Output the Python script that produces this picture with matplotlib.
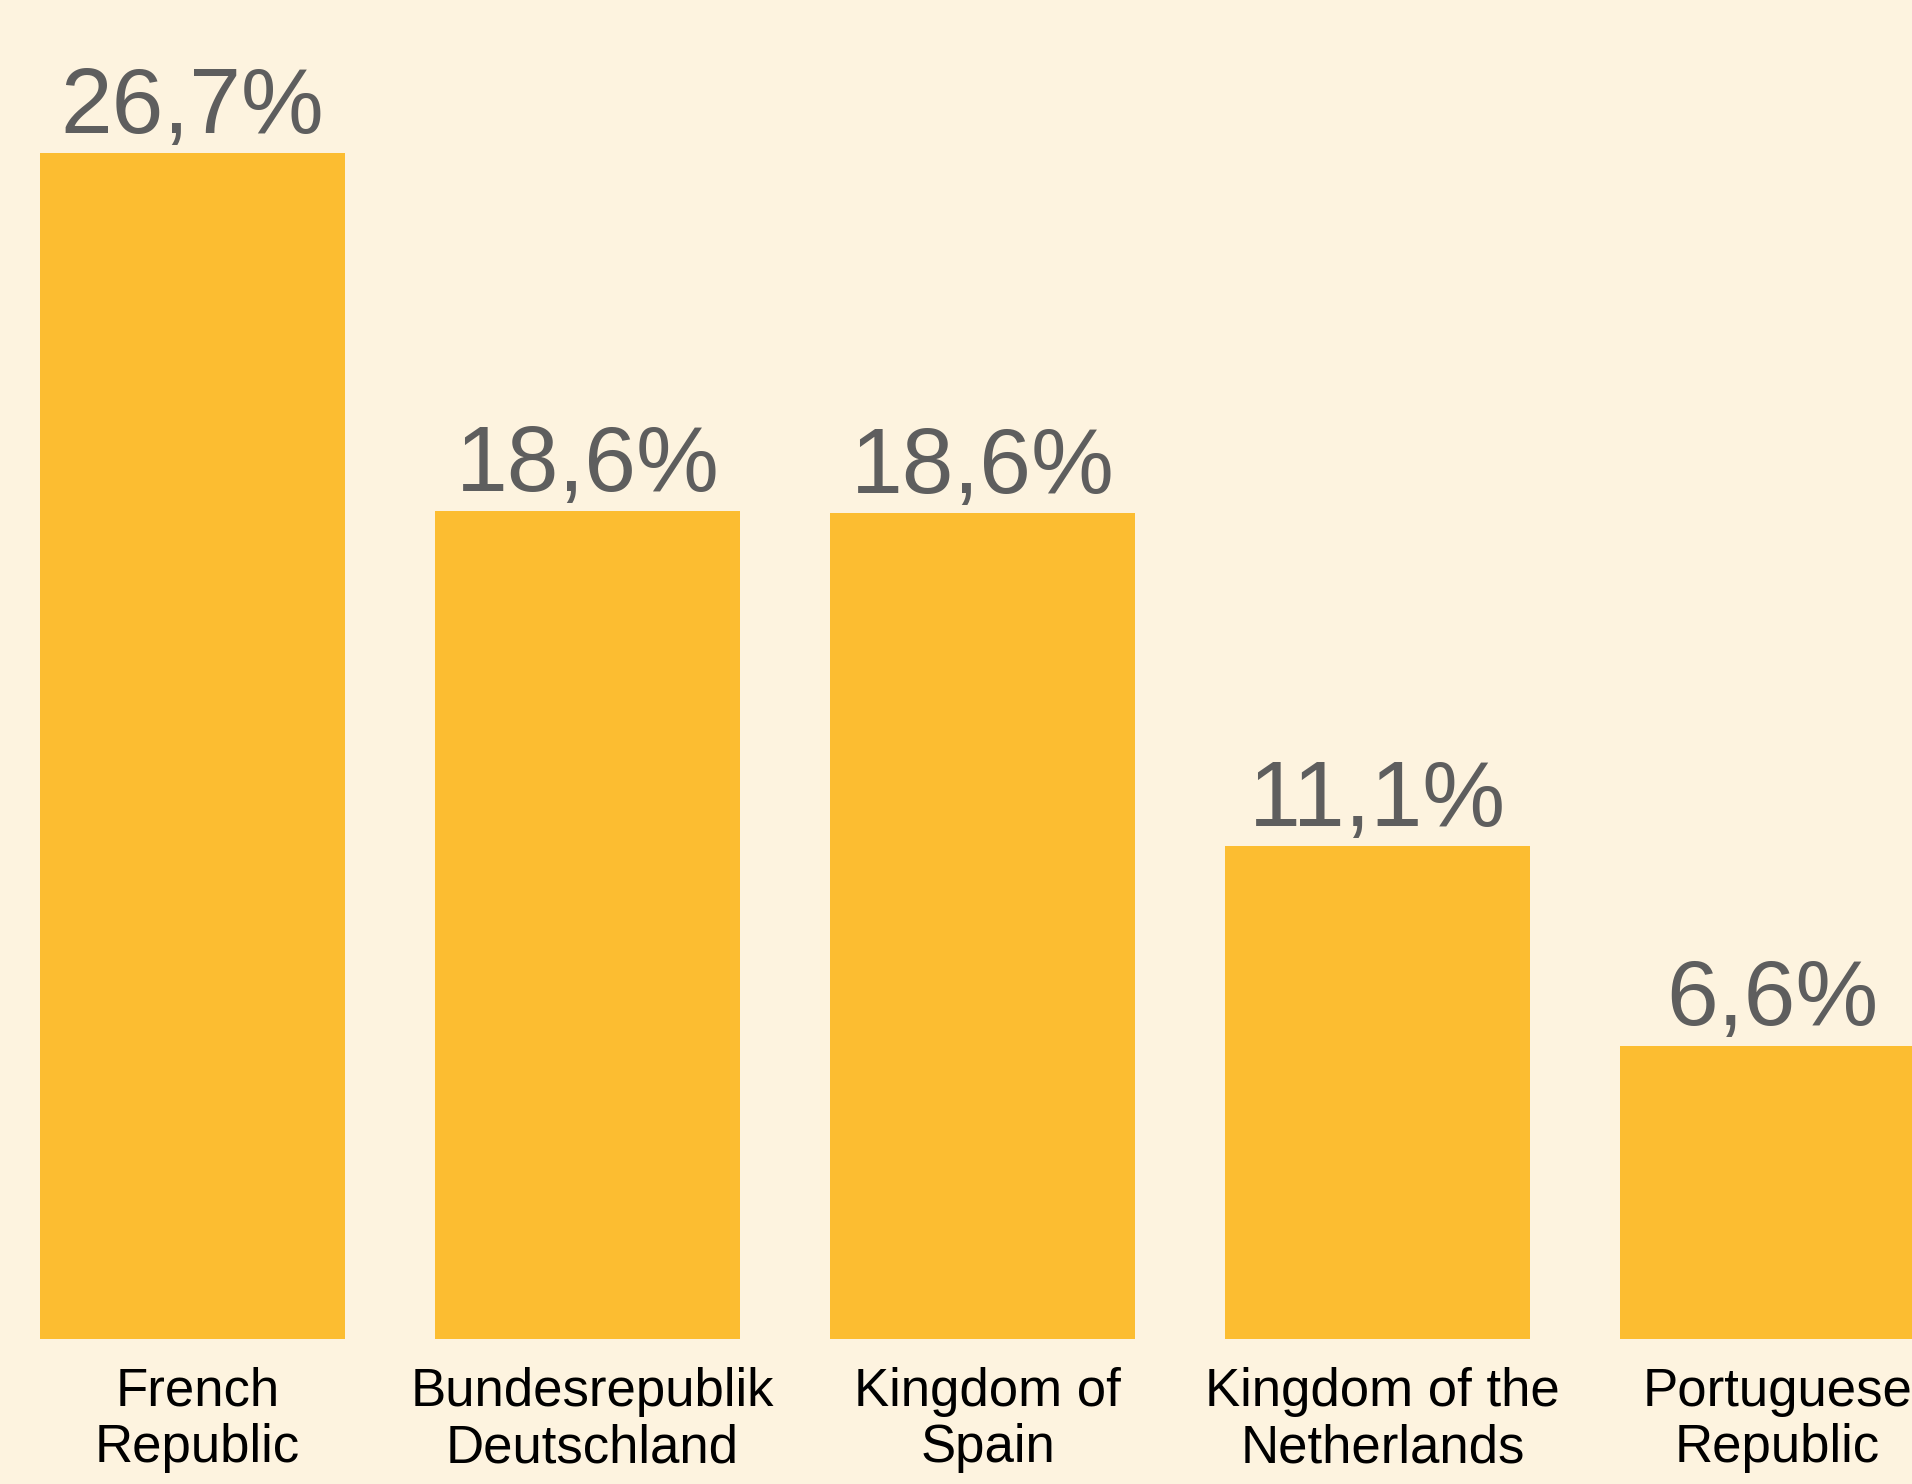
import matplotlib.pyplot as plt
import matplotlib.transforms as mtransforms

# Dados
paises = ['French\nRepublic', 'Bundesrepublik\nDeutschland', 'Kingdom of\nSpain',
          'Kingdom of the\nNetherlands', 'Portuguese\nRepublic']
valores = [26.7, 18.64, 18.6, 11.1, 6.6]

fundo = '#FDF3DF'
cor_barra = '#FCBD31'

plt.rcParams['font.family'] = ['Liberation Sans', 'DejaVu Sans']

fig = plt.figure(figsize=(19.12, 14.84), dpi=100, facecolor=fundo)
ax = fig.add_axes([0, 145 / 1484, 1, 1339 / 1484])
ax.set_facecolor(fundo)

x = range(len(valores))
barras = ax.bar(x, valores, width=0.772, color=cor_barra)

# Rótulos de valor sobre as barras
for xi, v in zip(x, valores):
    ax.annotate(f'{v:.1f}%'.replace('.', ','), (xi, v), xytext=(0, 1),
                textcoords='offset points', ha='center', va='bottom',
                fontsize=67, color='#5E5E5E')

ax.set_xticks(list(x))
ax.set_xticklabels(paises, fontsize=38, color='black', linespacing=1.17)
ax.tick_params(axis='x', length=0, pad=20)
# leve deslocamento para a direita, como no original
desloc = mtransforms.ScaledTranslation(5 / 100, 0, fig.dpi_scale_trans)
for lbl in ax.get_xticklabels():
    lbl.set_transform(lbl.get_transform() + desloc)
ax.set_yticks([])
ax.set_xlim(-0.487, 4.353)
ax.set_ylim(0, 30.15)
for s in ax.spines.values():
    s.set_visible(False)

fig.savefig('out.png', dpi=100, facecolor=fundo)
